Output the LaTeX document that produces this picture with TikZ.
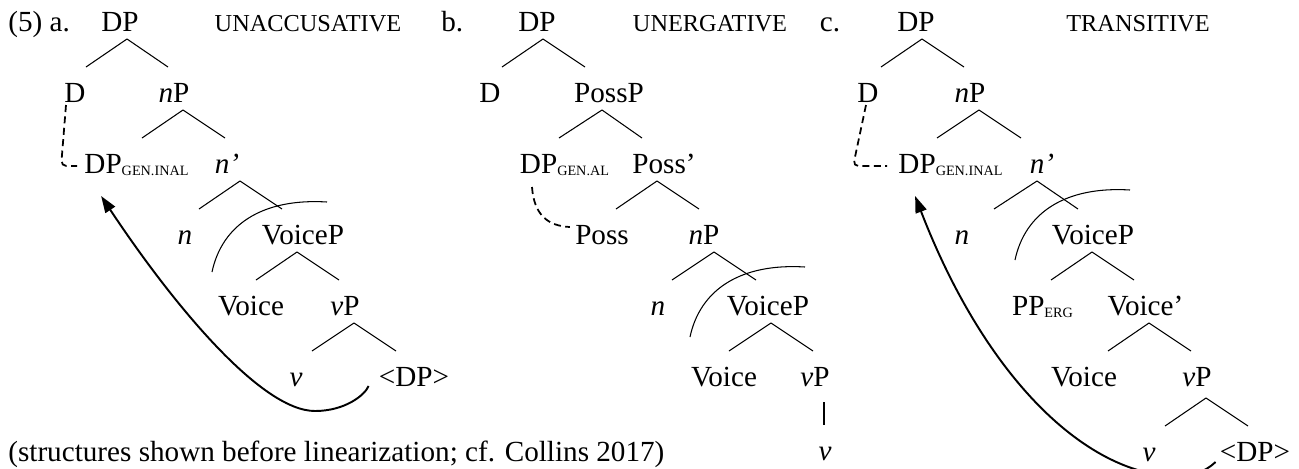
\documentclass[tikz,border=0pt]{standalone}
\usepackage{fontspec}
\setmainfont{Liberation Serif}
\usepackage{tikz}
\usetikzlibrary{calc,arrows.meta}

% one leg of a branching: parent, apex shift, child, end shift
\newcommand\leg[4]{\draw[leg] ($(#1.base)+(#2,8)$) -- ($(#3.base)+(#4,-35)$);}
\newcommand\gen[1]{\raisebox{-1.3pt}{\fontsize{8.1}{9}\selectfont #1}}

\begin{document}
\begin{tikzpicture}[x=0.02cm, y=-0.02cm,
    lbl/.style={inner sep=0pt, anchor=base, font=\fontsize{16.6}{19}\selectfont},
    tag/.style={lbl, font=\fontsize{13.85}{16}\selectfont},
    leg/.style={line width=0.6pt},
    link/.style={line width=1pt, dash pattern=on 4pt off 2.5pt},
    move/.style={line width=1.1pt, -{Triangle[length=9.5pt,width=6.5pt]}},
    arc/.style={line width=0.6pt}]
  \useasboundingbox (0,0) rectangle (1299,468);

  % (a) unaccusative
  \node[lbl, anchor=base west] (exa) at (8,31) {(5) a.};
  \node[lbl] (DPa) at (120,31) {DP};
  \node[tag] (typea) at (308,31) {UNACCUSATIVE};
  \node[lbl] (Da) at (75,102) {D};
  \node[lbl] (nPa) at (174,102) {\textit{n}P};
  \node[lbl] (DPga) at (136.5,173) {DP\gen{GEN.INAL}};
  \node[lbl] (nbara) at (227,173) {\textit{n’}};
  \node[lbl] (na) at (185,244) {\textit{n}};
  \node[lbl] (VoicePa) at (303,244) {VoiceP};
  \node[lbl] (Voicea) at (251,315) {Voice};
  \node[lbl] (vPa) at (345,315) {\textit{v}P};
  \node[lbl] (va) at (296,386) {\textit{v}};
  \node[lbl] (tDPa) at (414,386) {<DP>};
  \leg{DPa}{7}{Da}{11}       \leg{DPa}{7}{nPa}{-6}
  \leg{nPa}{9}{DPga}{5.5}    \leg{nPa}{9}{nbara}{-2}
  \leg{nbara}{13}{na}{14}    \leg{nbara}{13}{VoicePa}{-21}
  \leg{VoicePa}{-6}{Voicea}{5} \leg{VoicePa}{-6}{vPa}{-6}
  \leg{vPa}{9}{va}{16}       \leg{vPa}{9}{tDPa}{-18}
  \draw[link, rounded corners=3pt] ($(Da.base)+(-9,3)$) -- ($(DPga.base west)+(-23,-7)$)
    -- ($(DPga.base west)+(-7,-7)$);
  \draw[arc] ($(na.base)+(27,28)$) .. controls (222,225) and (262,198) .. (327,202);
  \draw[move] ($(tDPa.base west)+(-10,0)$) .. controls (365,395) and (345,411) .. (315,411)
    .. controls (260,411) and (170,300) .. ($(DPga.base west)+(17,23)$);

  % (b) unergative
  \node[lbl, anchor=base west] (exb) at (441,31) {b.};
  \node[lbl] (DPb) at (537,31) {DP};
  \node[tag] (typeb) at (710,31) {UNERGATIVE};
  \node[lbl] (Db) at (490,102) {D};
  \node[lbl] (PossPb) at (609,102) {PossP};
  \node[lbl] (DPgb) at (564.5,173) {DP\gen{GEN.AL}};
  \node[lbl] (Possbarb) at (664,173) {Poss’};
  \node[lbl] (Possb) at (602,244) {Poss};
  \node[lbl] (nPb) at (704,244) {\textit{n}P};
  \node[lbl] (nb) at (658,315) {\textit{n}};
  \node[lbl] (VoicePb) at (768,315) {VoiceP};
  \node[lbl] (Voiceb) at (724,386) {Voice};
  \node[lbl] (vPb) at (815,386) {\textit{v}P};
  \node[lbl] (vb) at (825,460) {\textit{v}};
  \leg{DPb}{6}{Db}{12}          \leg{DPb}{6}{PossPb}{-24}
  \leg{PossPb}{-7}{DPgb}{-5.5}  \leg{PossPb}{-7}{Possbarb}{-22}
  \leg{Possbarb}{-7}{Possb}{14} \leg{Possbarb}{-7}{nPb}{-5}
  \leg{nPb}{10}{nb}{14}         \leg{nPb}{10}{VoicePb}{-12}
  \leg{VoicePb}{3}{Voiceb}{5}   \leg{VoicePb}{3}{vPb}{-2}
  \draw[leg] ($(vPb.base)+(9,16)$) -- ($(vb.base)+(-1,-35)$);
  \draw[link] ($(DPgb.base)+(-32.5,14)$) .. controls (534,215) and (548,226)
    .. ($(Possb.base west)+(-5,-17)$);
  \draw[arc] ($(nb.base)+(32,22)$) .. controls (700,290) and (740,263) .. (805,267);

  % (c) transitive
  \node[lbl] (exc) at (830,31) {c.};
  \node[lbl] (DPc) at (916,31) {DP};
  \node[tag] (typec) at (1138,31) {TRANSITIVE};
  \node[lbl] (Dc) at (868,102) {D};
  \node[lbl] (nPc) at (970,102) {\textit{n}P};
  \node[lbl] (DPgc) at (950.5,173) {DP\gen{GEN.INAL}};
  \node[lbl] (nbarc) at (1042,173) {\textit{n’}};
  \node[lbl] (nc) at (962,244) {\textit{n}};
  \node[lbl] (VoicePc) at (1093,244) {VoiceP};
  \node[lbl] (PPc) at (1042.5,315) {PP\gen{ERG}};
  \node[lbl] (Voicebarc) at (1145.5,315) {Voice’};
  \node[lbl] (Voicec) at (1084,386) {Voice};
  \node[lbl] (vPc) at (1197,386) {\textit{v}P};
  \node[lbl] (vc) at (1149,461) {\textit{v}};
  \node[lbl] (tDPc) at (1255,461) {<DP>};
  \leg{DPc}{6}{Dc}{13}             \leg{DPc}{6}{nPc}{-6}
  \leg{nPc}{9}{DPgc}{-13.5}        \leg{nPc}{9}{nbarc}{-21}
  \leg{nbarc}{-5}{nc}{32}          \leg{nbarc}{-5}{VoicePc}{-15}
  \leg{VoicePc}{-1}{PPc}{8.5}      \leg{VoicePc}{-1}{Voicebarc}{-11.5}
  \leg{Voicebarc}{3.5}{Voicec}{24} \leg{Voicebarc}{3.5}{vPc}{-6}
  \draw[leg] ($(vPc.base)+(9,12)$) -- ($(vc.base)+(16,-35)$);
  \draw[leg] ($(vPc.base)+(9,12)$) -- ($(tDPc.base)+(-7,-35)$);
  \draw[link, rounded corners=3pt] ($(Dc.base)+(-2,3)$) -- ($(DPgc.base west)+(-45,-7)$)
    -- ($(DPgc.base west)+(-11,-7)$);
  \draw[arc] ($(nc.base)+(53,16)$) .. controls (1025,213) and (1065,186) .. (1130,190);
  \draw[move] ($(tDPc.base west)+(-4,1)$) .. controls (1205,472) and (1190,478) .. (1170,476)
    .. controls (1080,470) and (983,372) .. ($(DPgc.base west)+(17,23)$);

  \node[lbl, anchor=base west] (note) at (8,461)
    {(structures shown before linearization; cf. Collins 2017)};
\end{tikzpicture}
\end{document}
